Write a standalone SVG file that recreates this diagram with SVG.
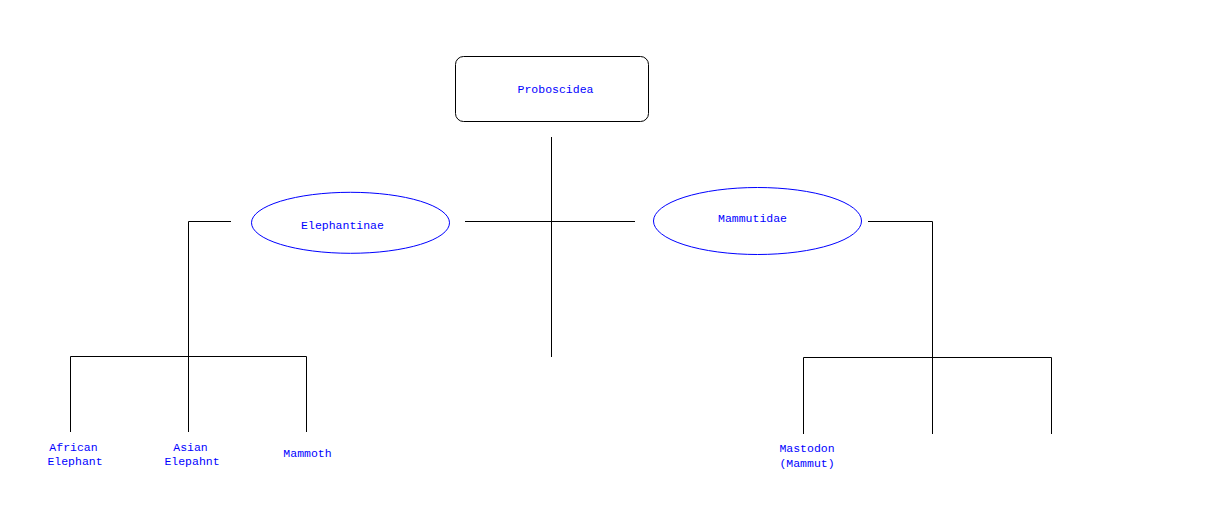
<svg xmlns="http://www.w3.org/2000/svg" width="1212" height="526" viewBox="0 0 1212 526">
<style>
.t{font-family:"Liberation Mono","Courier New",monospace;font-size:11.5px;fill:#0000ff;text-anchor:middle}
.e{fill:none;stroke:#000;stroke-width:1}
.ov{fill:#fff;stroke:#0000ff;stroke-width:1}
</style>
<rect width="1212" height="526" fill="#fff"/>
<g id="connectors" class="e">
<path d="M551.5 137V357"/>
<path d="M465 221.5H635"/>
<path d="M231 221.5H188.5V432"/>
<path d="M70.5 432V356.5H306.5V432"/>
<path d="M868 221.5H932.5V434"/>
<path d="M803.5 434V357.5H1051.5V434"/>
</g>
<g id="proboscidea">
<rect x="455.5" y="56.5" width="193" height="65" rx="8" fill="#fff" stroke="#000"/>
<text class="t" x="555.5" y="93">Proboscidea</text>
</g>
<g id="elephantinae">
<ellipse class="ov" cx="350.5" cy="222.8" rx="99" ry="30.5"/>
<text class="t" x="342.5" y="228.5">Elephantinae</text>
</g>
<g id="mammutidae">
<ellipse class="ov" cx="757.5" cy="221" rx="104" ry="33.5"/>
<text class="t" x="752.5" y="222">Mammutidae</text>
</g>
<g id="african-elephant">
<text class="t" x="73.5" y="451">African</text>
<text class="t" x="75" y="464.5">Elephant</text>
</g>
<g id="asian-elephant">
<text class="t" x="190.5" y="451">Asian</text>
<text class="t" x="192" y="464.5">Elepahnt</text>
</g>
<g id="mammoth">
<text class="t" x="307.5" y="457">Mammoth</text>
</g>
<g id="mastodon">
<text class="t" x="807" y="452">Mastodon</text>
<text class="t" x="807" y="467">(Mammut)</text>
</g>
</svg>
